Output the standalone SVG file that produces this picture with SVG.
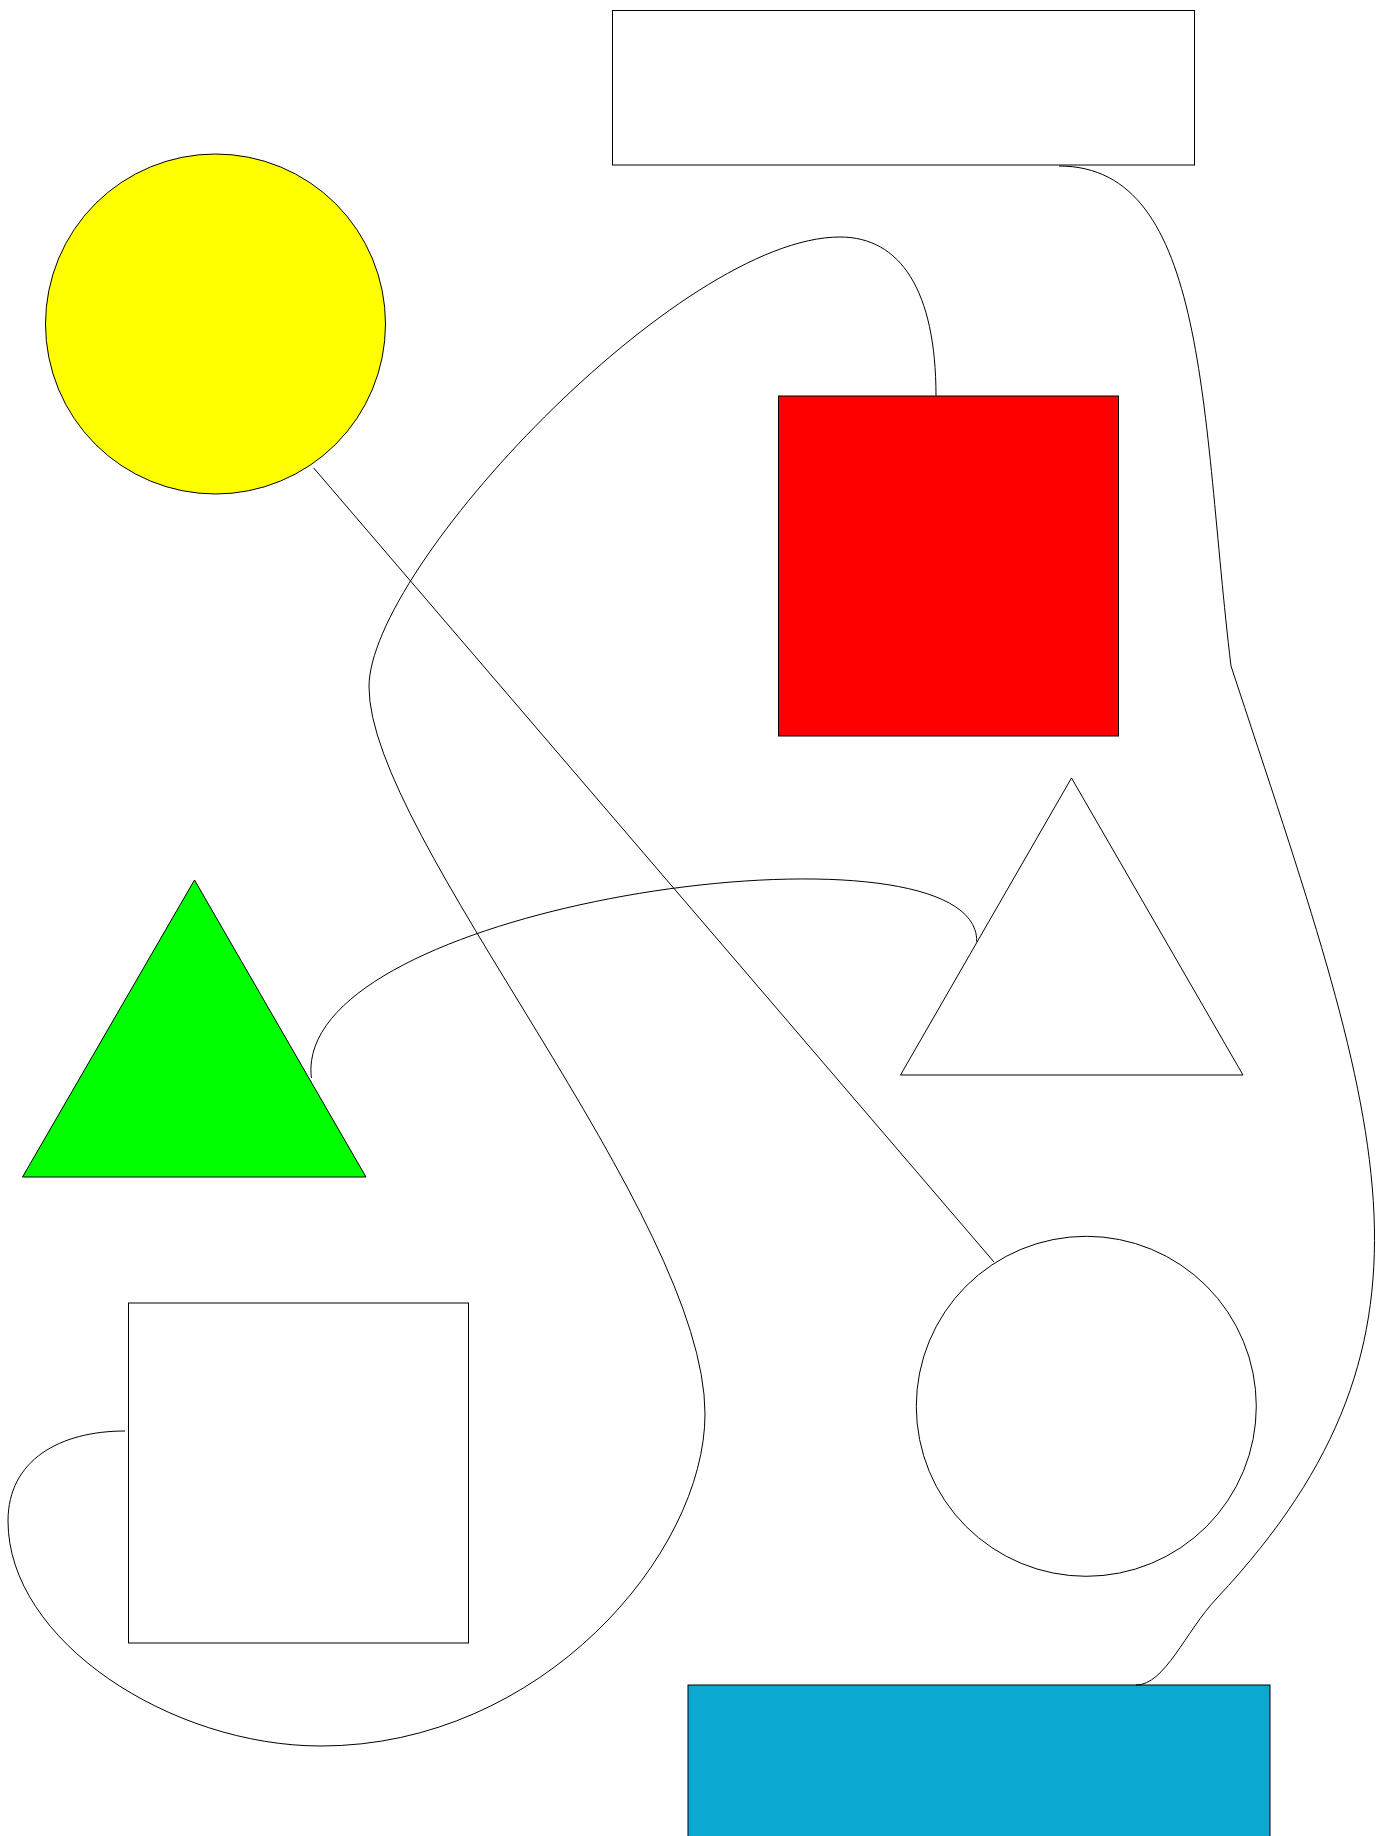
<svg xmlns="http://www.w3.org/2000/svg" width="1394" height="1836" viewBox="0 0 1394 1836">
<style>
.n{stroke:#000;stroke-width:1}
.c{fill:none;stroke:#000;stroke-width:1}
</style>
<rect x="0" y="0" width="1394" height="1836" fill="#fff"/>
<g id="nodes">
<g id="rect-top"><rect class="n" x="612.5" y="10.5" width="582" height="154.5" fill="#fff"/></g>
<g id="circle-yellow"><circle class="n" cx="215.5" cy="324" r="170" fill="#ffff00"/></g>
<g id="square-red"><rect class="n" x="778.5" y="396" width="340" height="340" fill="#ff0000"/></g>
<g id="triangle-white"><polygon class="n" points="1071.5,778 1243,1075 900.5,1075" fill="#fff"/></g>
<g id="triangle-green"><polygon class="n" points="194.5,880 366,1177 22.5,1177" fill="#00ff00"/></g>
<g id="square-white"><rect class="n" x="128.5" y="1303" width="340" height="340" fill="#fff"/></g>
<g id="circle-white"><circle class="n" cx="1086.3" cy="1406.3" r="170" fill="#fff"/></g>
<g id="rect-blue"><rect class="n" x="688" y="1685" width="582" height="155" fill="#0ba8d1"/></g>
</g>
<g id="connectors">
<path class="c" d="M 1059 166 C 1209 166, 1201 416, 1231 666 C 1379 1116, 1467 1331, 1217 1598 C 1185 1632, 1165 1685, 1136 1685"/>
<path class="c" d="M 936 396 C 936 290, 900 237, 840 237 C 680 237, 369 567, 369 687 C 369 837, 705 1214, 705 1414 C 705 1554, 541 1746, 321 1746 C 171 1746, 8 1641, 8 1521 C 8 1460, 60 1431, 125 1431"/>
<path class="c" d="M 976.7 941.7 C 980 810, 290 900, 311.4 1078"/>
<line class="c" x1="313.7" y1="468" x2="994" y2="1262"/>
</g>
</svg>
